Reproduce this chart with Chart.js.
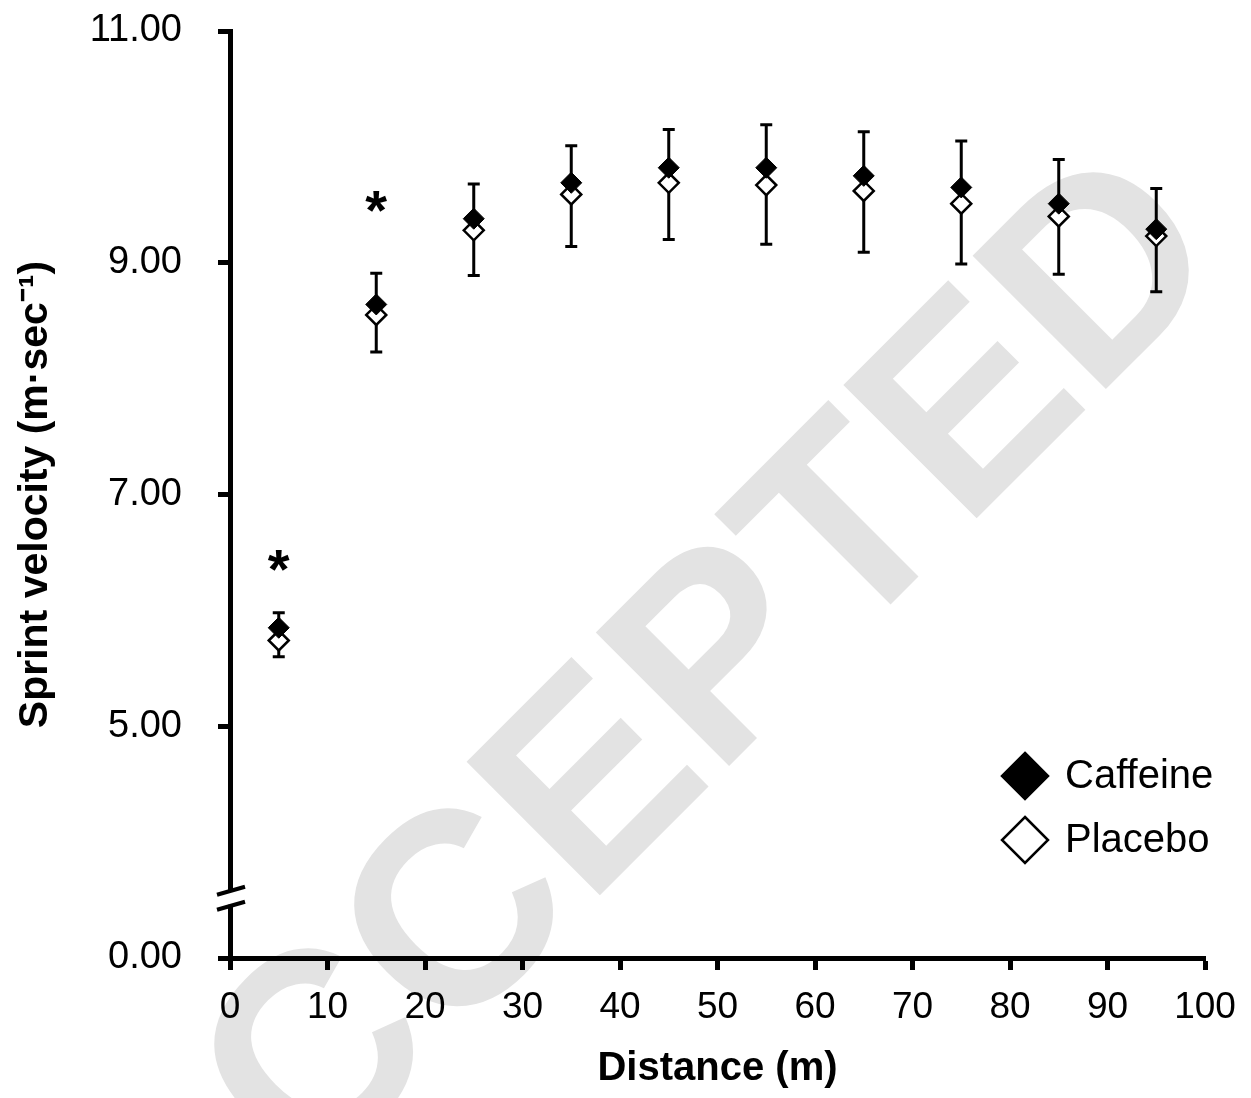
<!DOCTYPE html>
<html>
<head>
<meta charset="utf-8">
<script src="https://cdn.jsdelivr.net/npm/chart.js@4/dist/chart.umd.min.js"></script>
<style>
  html, body { margin: 0; padding: 0; background: #fff; }
</style>
</head>
<body>
<canvas id="chart" width="1251" height="1098"></canvas>
<script>
// distance (m) and sprint velocity means / SD
const distance   = [5, 15, 25, 35, 45, 55, 65, 75, 85, 95];
const caffeine   = [5.85, 8.64, 9.38, 9.69, 9.82, 9.82, 9.75, 9.65, 9.51, 9.29];
const placebo    = [5.74, 8.55, 9.28, 9.59, 9.69, 9.67, 9.62, 9.51, 9.40, 9.23];
const caffeineSD = [0.13, 0.27, 0.30, 0.32, 0.33, 0.37, 0.38, 0.40, 0.38, 0.35];
const placeboSD  = [0.14, 0.32, 0.39, 0.45, 0.49, 0.51, 0.53, 0.52, 0.50, 0.48];

// significance stars
const sigX = [5, 15];
const sigY = [6.47, 9.57];

// broken y axis: the bottom tick (3) is labelled 0.00
const yTickValues = [3, 5, 7, 9, 11];
const yTickLabels = ['0.00', '5.00', '7.00', '9.00', '11.00'];
const yBreak = 3.52;

const FONT = 'Liberation Sans, Arial, sans-serif';

const bgAndWatermark = {
  id: 'bgAndWatermark',
  beforeDraw(chart) {
    const ctx = chart.ctx;
    ctx.save();
    ctx.fillStyle = '#fff';
    ctx.fillRect(0, 0, chart.width, chart.height);
    ctx.translate(700, 795);
    ctx.rotate(-Math.PI / 4);
    ctx.font = 'bold 274px ' + FONT;
    ctx.fillStyle = '#e3e3e3';
    ctx.textAlign = 'center';
    ctx.textBaseline = 'alphabetic';
    ctx.fillText('ACCEPTED', 0, 0);
    ctx.restore();
  }
};

const errorBars = {
  id: 'errorBars',
  beforeDatasetsDraw(chart) {
    const ctx = chart.ctx;
    const xs = chart.scales.x, ys = chart.scales.y;
    ctx.save();
    ctx.strokeStyle = '#000';
    ctx.lineWidth = 3;
    const bar = (x, y0, y1) => {
      const px = xs.getPixelForValue(x);
      const p0 = ys.getPixelForValue(y0);
      const p1 = ys.getPixelForValue(y1);
      ctx.beginPath();
      ctx.moveTo(px, p0);
      ctx.lineTo(px, p1);
      ctx.moveTo(px - 6, p1);
      ctx.lineTo(px + 6, p1);
      ctx.stroke();
    };
    distance.forEach((d, i) => {
      bar(d, caffeine[i], caffeine[i] + caffeineSD[i]);
      bar(d, placebo[i], placebo[i] - placeboSD[i]);
    });
    ctx.restore();
  }
};

const extras = {
  id: 'extras',
  afterDraw(chart) {
    const ctx = chart.ctx;
    const xs = chart.scales.x, ys = chart.scales.y;
    const area = chart.chartArea;
    ctx.save();

    // axis break
    const yb = ys.getPixelForValue(yBreak);
    ctx.fillStyle = '#fff';
    ctx.fillRect(area.left - 5, yb - 7, 10, 14);
    ctx.strokeStyle = '#000';
    ctx.lineWidth = 4;
    ctx.beginPath();
    ctx.moveTo(area.left - 13, yb - 3);
    ctx.lineTo(area.left + 15, yb - 11);
    ctx.moveTo(area.left - 13, yb + 12);
    ctx.lineTo(area.left + 15, yb + 4);
    ctx.stroke();

    // stars
    ctx.fillStyle = '#000';
    ctx.font = 'bold 56px ' + FONT;
    ctx.textAlign = 'center';
    ctx.textBaseline = 'alphabetic';
    sigX.forEach((x, i) => {
      ctx.fillText('*', xs.getPixelForValue(x), ys.getPixelForValue(sigY[i]) + 32);
    });

    // legend
    const lx = area.right - 180;
    const items = chart.data.datasets.map((ds, i) => ({ ds, y: area.bottom - 182 + i * 64 }));
    ctx.font = '40px ' + FONT;
    ctx.textAlign = 'left';
    ctx.textBaseline = 'middle';
    items.forEach(({ ds, y }) => {
      const r = 23;
      ctx.beginPath();
      ctx.moveTo(lx, y - r);
      ctx.lineTo(lx + r, y);
      ctx.lineTo(lx, y + r);
      ctx.lineTo(lx - r, y);
      ctx.closePath();
      ctx.fillStyle = ds.backgroundColor;
      ctx.fill();
      ctx.lineWidth = 2.5;
      ctx.strokeStyle = '#000';
      ctx.stroke();
      ctx.fillStyle = '#000';
      ctx.fillText(ds.label, lx + 40, y + 1);
    });
    ctx.restore();
  }
};

new Chart(document.getElementById('chart'), {
  type: 'scatter',
  data: {
    datasets: [
      {
        label: 'Caffeine',
        data: distance.map((d, i) => ({ x: d, y: caffeine[i] })),
        pointStyle: 'rectRot',
        pointRadius: 10.5,
        backgroundColor: '#000',
        borderColor: '#000',
        borderWidth: 1
      },
      {
        label: 'Placebo',
        data: distance.map((d, i) => ({ x: d, y: placebo[i] })),
        pointStyle: 'rectRot',
        pointRadius: 10,
        backgroundColor: '#fff',
        borderColor: '#000',
        borderWidth: 2.5
      }
    ]
  },
  options: {
    responsive: false,
    animation: false,
    layout: { autoPadding: false, padding: { top: 31, right: 46, bottom: 0, left: 0 } },
    plugins: {
      legend: { display: false },
      tooltip: { enabled: false }
    },
    scales: {
      x: {
        type: 'linear',
        min: 0,
        max: 100,
        ticks: { stepSize: 10, color: '#000', padding: 16, font: { family: FONT, size: 37 } },
        grid: { drawOnChartArea: false, drawTicks: true, tickLength: 12, tickWidth: 5, tickColor: '#000' },
        border: { display: true, color: '#000', width: 5 },
        title: {
          display: true,
          text: 'Distance (m)',
          color: '#000',
          font: { family: FONT, size: 40, weight: 'bold' },
          padding: { top: 0, bottom: 5 }
        },
        afterFit: s => { s.height = 140; s.paddingLeft = 0; s.paddingRight = 0; }
      },
      y: {
        type: 'linear',
        min: 3,
        max: 11,
        afterBuildTicks: s => { s.ticks = yTickValues.map(v => ({ value: v })); },
        ticks: {
          color: '#000',
          padding: 36,
          font: { family: FONT, size: 38 },
          callback: v => yTickLabels[yTickValues.indexOf(v)]
        },
        grid: { drawOnChartArea: false, drawTicks: true, tickLength: 12, tickWidth: 5, tickColor: '#000' },
        border: { display: true, color: '#000', width: 5 },
        title: {
          display: true,
          text: 'Sprint velocity (m\u00b7sec\u207b\u00b9)',
          color: '#000',
          font: { family: FONT, size: 41, weight: 'bold' },
          padding: { top: 11, bottom: 0 }
        },
        afterFit: s => { s.width = 230; s.paddingTop = 0; s.paddingBottom = 0; }
      }
    }
  },
  plugins: [bgAndWatermark, errorBars, extras]
});
</script>
</body>
</html>
